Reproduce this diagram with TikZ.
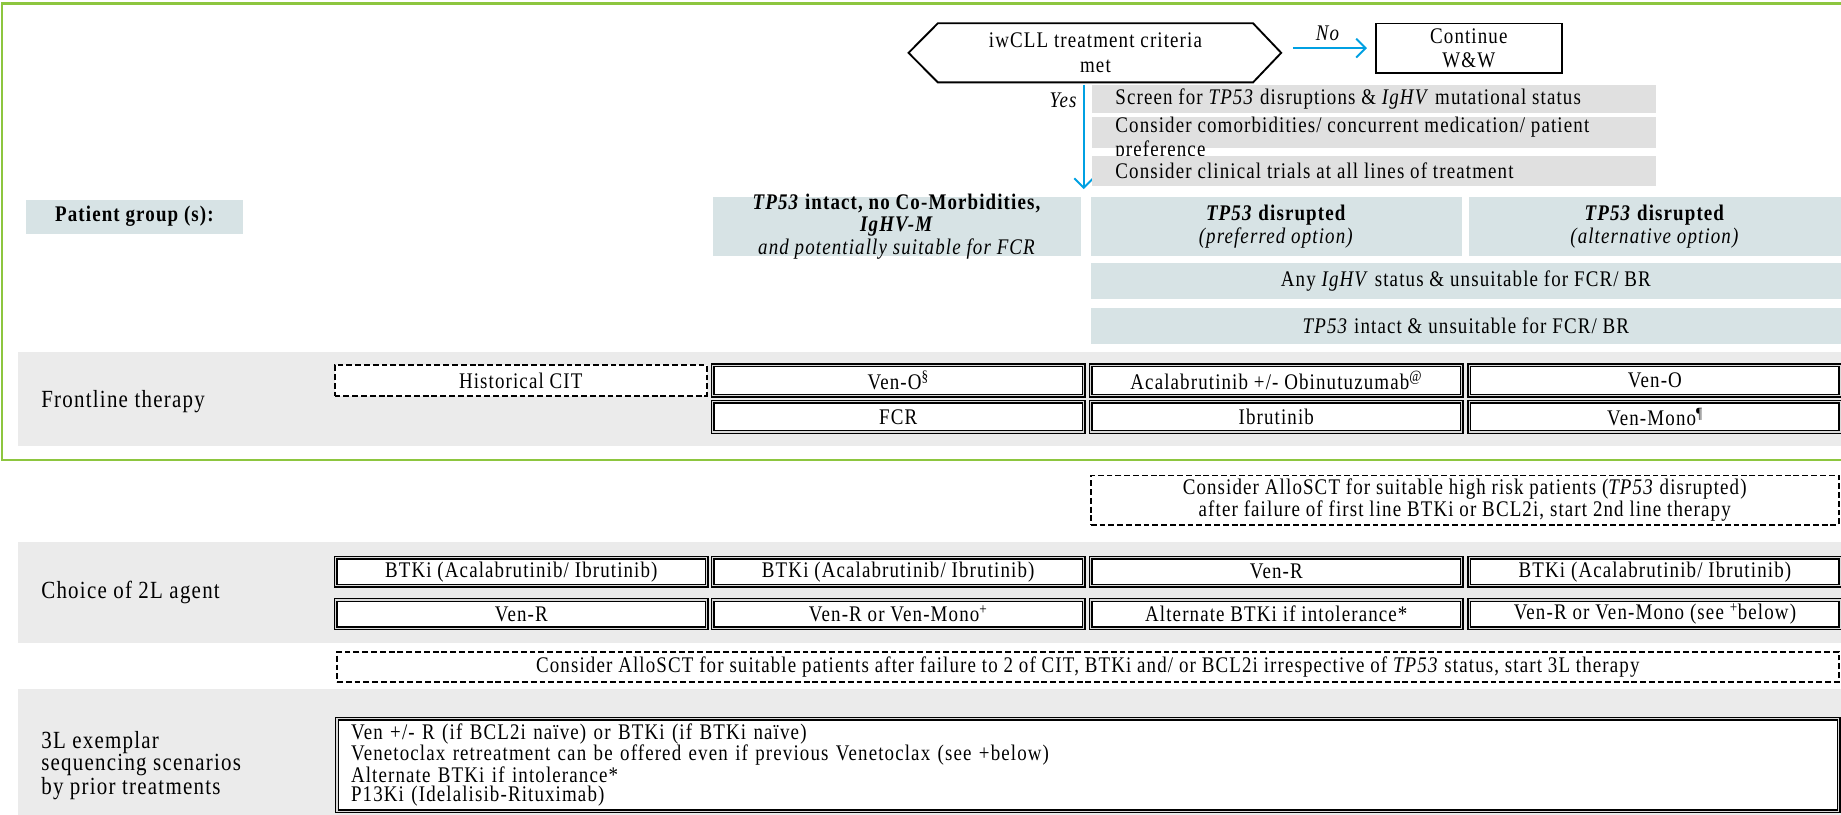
\documentclass[tikz,border=0pt]{standalone}
\usepackage{fontspec}
\setmainfont[FakeStretch=0.85, LetterSpace=5]{Liberation Serif}
\usetikzlibrary{arrows.meta, calc}

\definecolor{framegreen}{RGB}{141,198,63}
\definecolor{arrowblue}{RGB}{0,160,226}
\definecolor{screengrey}{RGB}{224,224,224}
\definecolor{groupblue}{RGB}{215,227,229}
\definecolor{bandgrey}{RGB}{235,235,235}

\tikzset{
  txtbox/.style={draw, line width=1.2pt, double=gray!30, double distance=1pt, fill=white,
    minimum width=316, minimum height=26, inner sep=0pt},
  dashbox/.style={draw, line width=1.6pt, dash pattern=on 5pt off 2.5pt, fill=white, inner sep=0pt},
  screenbar/.style={fill=screengrey, minimum width=480, inner sep=0pt},
  groupbox/.style={fill=groupblue, inner sep=0pt, align=center},
  rowlabel/.style={font=\fontsize{21}{22}\selectfont, anchor=west, align=left, inner sep=0pt},
  flow/.style={draw=arrowblue, line width=1.6pt, -{Straight Barb[length=8pt,width=16pt]}},
}

\begin{document}
\begin{tikzpicture}[x=1pt, y=-1pt, font=\fontsize{19}{21}\selectfont]
\useasboundingbox (0,0) rectangle (1568,694);

% grey bands of the rows
\fill[bandgrey] (15,300) rectangle (1568,380);
\fill[bandgrey] (15,462) rectangle (1568,548);
\fill[bandgrey] (15,587) rectangle (1568,694);

% frame round the first part
\draw[framegreen, line width=1.8pt] (2,3) rectangle (1575,392);

% decision
\node[minimum width=268, minimum height=50, inner sep=0pt, align=center] (crit) at (933,45) {iwCLL treatment criteria\\met};
\coordinate (critR) at ($(crit.east)+(24,0)$);
\coordinate (critL) at ($(crit.west)+(-25,0)$);
\draw[line width=1.6pt] (crit.north west) -- (crit.north east) -- (critR) -- (crit.south east)
  -- (crit.south west) -- (critL) -- cycle;
\node[draw, line width=1.6pt, minimum width=158, minimum height=42, inner sep=0pt, align=center] (cont) at (1251,41) {Continue\\W\&W};

\draw[flow, shorten <=10pt, shorten >=7pt] (critR |- cont.west) -- (cont.west)
  node[midway, above=2pt] {\textit{No}};

\coordinate (yesend) at (923,161);
\draw[flow, shorten <=2pt] (crit.south -| yesend) -- (yesend)
  node[pos=0.17, left=1pt] {\textit{Yes}};

% screening notes
\node[screenbar, minimum height=24] (scr1) at (1170,84) {};
\node[anchor=west, inner sep=0pt] (scr1t) at ($(scr1.west)+(20,0)$) {Screen for \textit{TP53} disruptions \& \textit{IgHV} mutational status};
\node[screenbar, minimum height=26] (scr2) at (1170,113) {};
\node[anchor=north west, align=left, inner sep=0pt, font=\fontsize{19}{20}\selectfont] (scr2t) at ($(scr2.north west)+(20,0)$) {Consider comorbidities/ concurrent medication/ patient\\preference};
\node[screenbar, minimum height=25] (scr3) at (1170,145.5) {};
\node[anchor=west, inner sep=0pt] (scr3t) at ($(scr3.west)+(20,0)$) {Consider clinical trials at all lines of treatment};

% patient groups
\node[groupbox, minimum width=185, minimum height=29, font=\fontsize{19}{21}\selectfont\bfseries] (pgrp) at (114.5,184.5) {Patient group (s):};
\node[groupbox, minimum width=314, minimum height=50] (grpA) at (764,193) {};
\node[align=center, inner sep=0pt, font=\fontsize{19}{19.5}\selectfont] (grpAt) at (764,193) {\textbf{\textit{TP53} intact, no Co-Morbidities,}\\\textbf{\textit{IgHV-M}}\\\textit{and potentially suitable for FCR}};
\node[groupbox, minimum width=316, minimum height=50, font=\fontsize{19}{19}\selectfont] (grpB) at (1087,193) {\textbf{\textit{TP53} disrupted}\\\textit{(preferred option)}};
\node[groupbox, minimum width=317, minimum height=50, font=\fontsize{19}{19}\selectfont] (grpC) at (1409.5,193) {\textbf{\textit{TP53} disrupted}\\\textit{(alternative option)}};
\node[groupbox, minimum width=639, minimum height=31] (anyig) at (1248.5,239.5) {Any \textit{IgHV} status \& unsuitable for FCR/ BR};
\node[groupbox, minimum width=639, minimum height=31] (tpint) at (1248.5,277.5) {\textit{TP53} intact \& unsuitable for FCR/ BR};

% frontline therapy
\node[rowlabel] (front) at (35,342) {Frontline therapy};
\node[dashbox, minimum width=317, minimum height=26] (hist) at (443.5,324) {Historical CIT};
\node[txtbox] (venoA) at (765,324) {Ven-O\textsuperscript{\S}};
\node[txtbox] (acal) at (1087,324) {Acalabrutinib +/- Obinutuzumab\textsuperscript{@}};
\node[txtbox] (venoC) at (1409.5,324) {Ven-O};
\node[txtbox] (fcr) at (765,355) {FCR};
\node[txtbox] (ibru) at (1087,355) {Ibrutinib};
\node[txtbox] (vmono) at (1409.5,355) {Ven-Mono\textsuperscript{\P}};

\node[dashbox, minimum width=637, minimum height=42, align=center, font=\fontsize{19}{19}\selectfont] (alloA) at (1247.5,426) {Consider AlloSCT for suitable high risk patients (\textit{TP53} disrupted)\\after failure of first line BTKi or BCL2i, start 2nd line therapy};

% second line
\node[rowlabel] (second) at (35,505) {Choice of 2L agent};
\node[txtbox, minimum height=24] (btkA) at (444,487) {BTKi (Acalabrutinib/ Ibrutinib)};
\node[txtbox, minimum height=24] (btkB) at (765,487) {BTKi (Acalabrutinib/ Ibrutinib)};
\node[txtbox, minimum height=24] (venrC) at (1087,487) {Ven-R};
\node[txtbox, minimum height=24] (btkD) at (1409.5,487) {BTKi (Acalabrutinib/ Ibrutinib)};
\node[txtbox, minimum height=24] (venrA) at (444,523) {Ven-R};
\node[txtbox, minimum height=24] (venrB) at (765,523) {Ven-R or Ven-Mono\textsuperscript{+}};
\node[txtbox, minimum height=24] (altC) at (1087,523) {Alternate BTKi if intolerance*};
\node[txtbox, minimum height=24] (venrD) at (1409.5,523) {Ven-R or Ven-Mono (see \textsuperscript{+}below)};

\node[dashbox, minimum width=1279, minimum height=26] (alloB) at (926.5,568) {Consider AlloSCT for suitable patients after failure to 2 of CIT, BTKi and/ or BCL2i irrespective of \textit{TP53} status, start 3L therapy};

% third line
\node[rowlabel, font=\fontsize{21}{19}\selectfont] (third) at (35,652) {3L exemplar\\sequencing scenarios\\by prior treatments};
\node[txtbox, minimum width=1279, minimum height=79, text width=1255, align=left, font=\fontsize{19}{16.5}\selectfont] (thirdbox) at (926.5,651.5) {Ven +/- R (if BCL2i naïve) or BTKi (if BTKi naïve)\\Venetoclax retreatment can be offered even if previous Venetoclax (see +below)\\Alternate BTKi if intolerance*\\P13Ki (Idelalisib-Rituximab)};
\end{tikzpicture}
\end{document}
